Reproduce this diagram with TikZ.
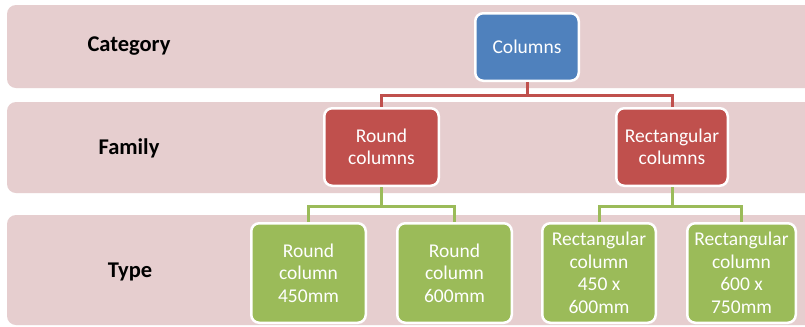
\documentclass[tikz,border=0pt]{standalone}
\usepackage{fontspec}
\setmainfont{Carlito}
\definecolor{bandc}{HTML}{E6CECF}
\definecolor{bluec}{HTML}{4F81BD}
\definecolor{redc}{HTML}{C0504D}
\definecolor{greenc}{HTML}{9BBB59}
\begin{document}
\begin{tikzpicture}[x=1bp,y=-1bp,
  band/.style={fill=bandc,rounded corners=9bp},
  lbl/.style={font=\fontsize{22.5bp}{26bp}\selectfont\bfseries,text=black},
  boxc/.style={draw=white,line width=2.5bp,rounded corners=8bp,text=white,align=center,
    inner sep=0pt,font=\fontsize{19.5bp}{22.5bp}\selectfont},
  bluebox/.style={boxc,fill=bluec},
  redbox/.style={boxc,fill=redc},
  greenbox/.style={boxc,fill=greenc},
  redline/.style={draw=redc,line width=3bp},
  greenline/.style={draw=greenc,line width=3bp}]
\useasboundingbox (0,0) rectangle (805,326);
\clip (0,0) rectangle (805,326);
\fill[white] (0,0) rectangle (805,326);
% bands
\path[band] (7,5) rectangle (830,88);
\path[band] (7,102) rectangle (830,193);
\path[band] (7,215) rectangle (830,325);
% labels
\node[lbl] (lcat) at (129,46) {Category};
\node[lbl] (lfam) at (129,148) {Family};
\node[lbl] (ltyp) at (130,272) {Type};
% boxes
\node[bluebox,minimum width=103.5bp,minimum height=67.5bp] (col) at (527,47) {Columns};
\node[redbox,minimum width=114.5bp,minimum height=77.5bp] (rc) at (381.5,147) {Round\\columns};
\node[redbox,minimum width=111.5bp,minimum height=77.5bp] (rr) at (672,147) {Rectangular\\columns};
\node[greenbox,minimum width=114.5bp,minimum height=99.5bp] (t1) at (308.5,273) {Round\\column\\450mm};
\node[greenbox,minimum width=114.5bp,minimum height=99.5bp] (t2) at (454.5,273) {Round\\column\\600mm};
\node[greenbox,minimum width=113.5bp,minimum height=99.5bp] (t3) at (599,273) {Rectangular\\column\\450 x\\600mm};
\node[greenbox,minimum width=108.5bp,minimum height=99.5bp] (t4) at (741.5,273) {Rectangular\\column\\600 x\\750mm};
% connectors
\begin{scope}[on background layer/.try]
\end{scope}
\draw[redline] (col.south) -- ++(0,13) -| (rc.north);
\draw[redline] (col.south) -- ++(0,13) -| (rr.north);
\draw[greenline] (rc.south) -- ++(0,19) -| (t1.north);
\draw[greenline] (rc.south) -- ++(0,19) -| (t2.north);
\draw[greenline] (rr.south) -- ++(0,19) -| (t3.north);
\draw[greenline] (rr.south) -- ++(0,19) -| (t4.north);
\end{tikzpicture}
\end{document}
